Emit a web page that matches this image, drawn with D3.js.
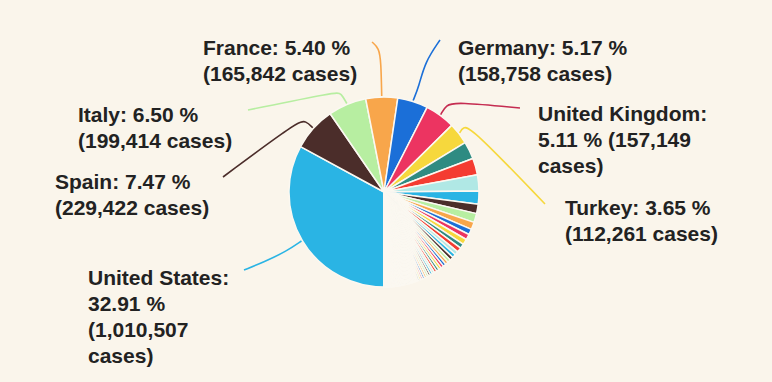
<!DOCTYPE html>
<html><head><meta charset="utf-8">
<script src="https://cdn.jsdelivr.net/npm/d3@7"></script>
<style>html,body{margin:0;padding:0;background:#faf5eb;} svg{display:block}</style>
</head><body><svg id="c" width="772" height="382"></svg>
<script>
// ---- data (cases per country, read/estimated) ----
const countries = ["United States","Spain","Italy","France","Germany","United Kingdom","Turkey",
"Iran","Russia","China","Brazil","Canada","Belgium","Netherlands","India","Switzerland","Peru","Ecuador","Portugal",
"Ireland","Sweden","Saudi Arabia","Mexico","Israel","Austria","Singapore","Pakistan","Chile","Japan",
"Qatar","Poland","UAE","Belarus","Romania","South Korea","Ukraine","Indonesia","Denmark","Serbia",
"Philippines","Norway","Czechia","Australia","Bangladesh","Dominican Republic","Malaysia","Panama","Colombia",
"South Africa","Egypt","Finland","Morocco","Argentina","Luxembourg","Algeria","Moldova","Kuwait",
"Thailand","Kazakhstan","Bahrain","Hungary","Greece","Oman","Croatia","Iraq","Uzbekistan","Armenia",
"Iceland","Cameroon","Afghanistan","Estonia","Azerbaijan","Bosnia and Herzegovina","Ghana","New Zealand","Lithuania","Slovenia",
"North Macedonia","Cuba","Slovakia","Bulgaria","Nigeria","Guinea","Côte d'Ivoire","Djibouti","Bolivia",
"Tunisia","Latvia","Cyprus","Andorra","Albania","Lebanon","Diamond Princess","Kyrgyzstan","Niger","Costa Rica","Senegal",
"Burkina Faso","Honduras","Uruguay","San Marino","Sri Lanka","Kosovo","Guatemala","Georgia","Somalia","DR Congo",
"Jordan","Malta","Taiwan","Mali","Kenya","Palestine","Mauritius","Venezuela","El Salvador","Montenegro",
"Jamaica","Tanzania","Sudan","Vietnam","Equatorial Guinea","Paraguay","Gabon","Rwanda","Congo","Maldives",
"Myanmar","Liberia","Brunei","Ethiopia","Madagascar","Sierra Leone","Cambodia","Trinidad and Tobago","Cabo Verde","Togo",
"Monaco","Zambia","Bahamas","Uganda","Barbados","Mozambique","Haiti","Guyana","Guinea-Bissau","Eswatini",
"Benin","Libya","Nepal","Central African Republic","Chad","Syria","Eritrea","Mongolia","Malawi","South Sudan",
"Zimbabwe","Angola","Timor-Leste","Antigua and Barbuda","Botswana","Grenada","Laos","Belize","Fiji","Namibia",
"Dominica","Saint Lucia","Saint Kitts and Nevis","Nicaragua","Burundi","Seychelles","Gambia","Suriname","Holy See","Papua New Guinea",
"Mauritania","Bhutan","Sao Tome and Principe","Western Sahara","Yemen","Comoros"];
const cases = [1010507,229422,199414,165842,158758,157149,112261,
91472,87147,83940,67446,49616,46687,38245,29451,29164,28699,24258,24027,
19648,18926,18811,16152,15589,15274,14951,14079,13813,13736,
11921,11902,11380,11289,11036,10752,9410,9096,8851,8042,
7777,7599,7445,6720,6462,6293,5820,5779,5597,
4793,4782,4695,4120,3892,3729,3517,3481,3440,
2931,2835,2811,2649,2534,2131,2047,1928,1904,1808,
1795,1705,1703,1660,1645,1585,1550,1472,1438,1408,
1399,1389,1379,1363,1337,1240,1111,1089,1053,
949,836,822,743,736,717,712,708,701,697,671,
635,627,620,538,523,510,500,496,480,471,
450,448,429,389,363,342,332,325,323,322,
305,299,275,270,258,228,211,207,207,200,
146,141,138,124,124,124,122,116,114,98,
94,88,80,79,79,76,76,74,73,71,
64,61,52,50,46,43,39,38,36,34,
31,27,24,24,22,20,19,18,18,16,
16,15,15,13,11,11,10,10,9,8,
7,7,8,6,1,1];
// percentages as printed on the labels (top seven)
const labelPercents = ["32.91","7.47","6.50","5.40","5.17","5.11","3.65"];
const palette = ["#2ab4e4","#4b2d2a","#b7eea1","#f8a64b","#1b6fd8","#ec3461","#f6d83d","#2e8b82","#f43c31","#b0e8e5"];

// ---- layout ----
const W = 772, H = 382, bg = "#faf5eb";
const cx = 384, cy = 192, R = 95;
const labelLayout = [
  {x: 88,  y: 285, wrap: 160, bends: [[287,251],[264,262],[244,270]]},
  {x: 55,  y: 189, wrap: 200, bends: [[306,121],[298,121],[223,177]]},
  {x: 78,  y: 122, wrap: 200, bends: [[341,93],[336,92],[248,110]]},
  {x: 203, y: 55,  wrap: 200, bends: [[381,62],[379,48],[372,42]]},
  {x: 458, y: 55,  wrap: 200, bends: [[419,86],[425,62],[440,40]]},
  {x: 538, y: 121, wrap: 185, bends: [[446,105],[456,102],[520,108]]},
  {x: 565, y: 215, wrap: 200, bends: [[463,127],[471,127],[545,204]]}
];
const lineH = 26;

const svg = d3.select("#c");
svg.append("rect").attr("width", W).attr("height", H).attr("fill", bg);

const data = countries.map((c, i) => ({name: c, value: cases[i]}));
const pie = d3.pie().value(d => d.value).sort((a, b) => b.value - a.value)
  .startAngle(Math.PI).endAngle(3 * Math.PI);
const arcs = pie(data);
const arc = d3.arc().innerRadius(0).outerRadius(R);

const g = svg.append("g").attr("transform", `translate(${cx},${cy})`);
g.selectAll("path").data(arcs).join("path")
  .attr("d", arc)
  .attr("fill", d => palette[d.index % palette.length])
  .attr("stroke", "#fbf8f1")
  .attr("stroke-width", 1.5)
  .attr("stroke-linejoin", "round");

const sorted = arcs.slice().sort((a, b) => a.index - b.index);
const fmt = d3.format(",");
const line = d3.line().curve(d3.curveBasis);

sorted.slice(0, labelLayout.length).forEach((a, i) => {
  const L = labelLayout[i];
  const mid = (a.startAngle + a.endAngle) / 2;
  const start = [cx + (R + 1) * Math.sin(mid), cy - (R + 1) * Math.cos(mid)];
  const col = palette[a.index % palette.length];
  svg.append("path")
    .attr("d", line([start, ...L.bends]))
    .attr("fill", "none")
    .attr("stroke", i === 5 ? d3.color(col).darker(0.5) : col)
    .attr("stroke-width", 1.6);

  const full = `${a.data.name}: ${labelPercents[i]} % (${fmt(a.data.value)} cases)`;
  const t = svg.append("text")
    .attr("x", L.x).attr("y", L.y)
    .attr("font-family", "'Liberation Sans', Arial, sans-serif")
    .attr("font-weight", "bold")
    .attr("font-size", 21)
    .attr("fill", "#222");
  // word wrap
  const words = full.split(" ");
  let lines = [], cur = "";
  const probe = t.append("tspan");
  words.forEach(w => {
    const test = cur ? cur + " " + w : w;
    probe.text(test);
    if (cur && probe.node().getComputedTextLength() > L.wrap) { lines.push(cur); cur = w; }
    else cur = test;
  });
  lines.push(cur);
  probe.remove();
  lines.forEach((ln, k) => {
    t.append("tspan").attr("x", L.x).attr("y", L.y + k * lineH).text(ln);
  });
});
</script>
</body></html>
